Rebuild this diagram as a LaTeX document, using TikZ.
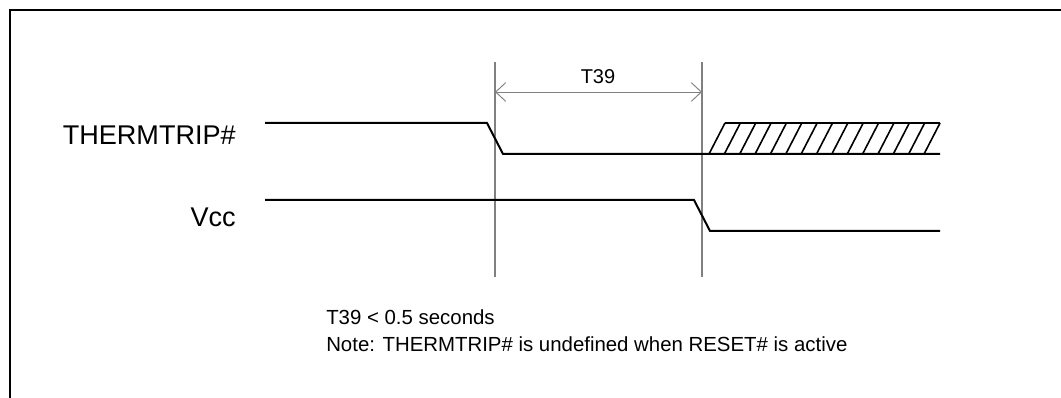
\documentclass[tikz,border=0pt]{standalone}
\usepackage{fontspec}
\setmainfont{Liberation Sans}
\usetikzlibrary{arrows.meta}
\definecolor{guide}{HTML}{808080}
\begin{document}
\begin{tikzpicture}[x=0.75pt,y=-0.75pt,
  frame/.style={line width=1.6pt,black},
  sig/.style={line width=1.5pt,black,line join=miter},
  guideline/.style={line width=0.9pt,guide},
  dim/.style={line width=0.7pt,guide,{Straight Barb[length=7.5pt,width=14pt]}-{Straight Barb[length=7.5pt,width=14pt]}},
  hatchline/.style={line width=1.2pt,black},
  siglabel/.style={font=\fontsize{20.3pt}{24pt}\selectfont,anchor=base east,inner sep=0pt},
  note/.style={font=\fontsize{15.3pt}{18pt}\selectfont,anchor=base west,inner sep=0pt}]
\useasboundingbox (0,0) rectangle (1061,398);
% frame
\draw[frame] (10,398) -- (10,10) -- (1061,10);
% guide lines
\coordinate (g1t) at (495,62);
\coordinate (g1b) at (495,277);
\coordinate (g2t) at (702,62);
\coordinate (g2b) at (702,277);
\draw[guideline] (g1t) -- (g1b);
\draw[guideline] (g2t) -- (g2b);
\coordinate (a1) at (495,92);
\coordinate (a2) at (702,92);
\draw[dim] (a1) -- (a2);
\node[font=\fontsize{15pt}{18pt}\selectfont,anchor=base,inner sep=0pt] (t39) at (598,84) {T39};
% labels
\node[siglabel] (lthermal) at (236,145) {THERMTRIP\#};
\node[siglabel] (lvcc) at (236,227) {Vcc};
% THERMTRIP# signal
\draw[sig] (265,123) -- (487,123) -- (503,154) -- (940,154);
\draw[hatchline] (725,123) -- (940,123);
\foreach \i in {0,...,14} {
  \draw[hatchline] ({709+15.36*\i},154) -- ({725+15.36*\i},123);
}
% Vcc signal
\draw[sig] (265,200) -- (694,200) -- (710,231) -- (940,231);
% notes
\node[note] (n1) at (326,325) {T39 < 0.5 seconds};
\node[note] (n2) at (326,352) {Note: THERMTRIP\# is undefined when RESET\# is active};
\end{tikzpicture}
\end{document}
